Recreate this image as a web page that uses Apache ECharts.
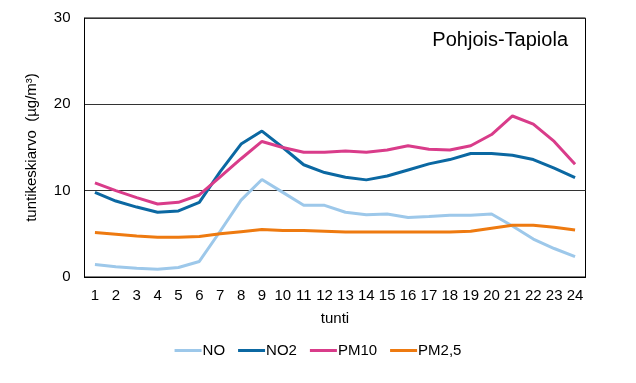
<!DOCTYPE html>
<html>
<head>
<meta charset="utf-8">
<script src="https://cdn.jsdelivr.net/npm/echarts@6/dist/echarts.min.js"></script>
<style>
html,body{margin:0;padding:0;background:#fff;}
#c{width:636px;height:383px;}
</style>
</head>
<body>
<div id="c"></div>
<script>
var hours = ['1','2','3','4','5','6','7','8','9','10','11','12','13','14','15','16','17','18','19','20','21','22','23','24'];
var NO   = [1.45,1.2,1.0,0.9,1.1,1.8,5.3,8.9,11.3,9.8,8.3,8.3,7.5,7.2,7.3,6.9,7.0,7.15,7.15,7.3,5.9,4.4,3.3,2.35];
var NO2  = [9.8,8.8,8.1,7.5,7.65,8.65,12.2,15.4,16.9,15.0,13.0,12.1,11.55,11.25,11.7,12.4,13.1,13.6,14.3,14.3,14.1,13.6,12.6,11.5];
var PM10 = [10.9,10.0,9.2,8.45,8.65,9.5,11.6,13.7,15.7,15.0,14.45,14.45,14.6,14.45,14.7,15.2,14.8,14.7,15.2,16.5,18.65,17.7,15.7,13.05];
var PM25 = [5.15,4.95,4.75,4.6,4.6,4.7,5.0,5.25,5.5,5.4,5.4,5.3,5.2,5.2,5.2,5.2,5.2,5.2,5.3,5.65,6.0,6.0,5.75,5.45];
var seriesNames = ['NO','NO2','PM10','PM2,5'];
var colors = ['#9DC8EA','#0B68A2','#D93C8A','#EE7A10'];
var stationName = 'Pohjois-Tapiola';

var font = 'Arial, "Liberation Sans", sans-serif';
var chart = echarts.init(document.getElementById('c'), null, {renderer:'canvas'});
var data = [NO, NO2, PM10, PM25];
chart.setOption({
  animation:false,
  color: colors,
  title:{
    text: stationName,
    right: 63, top: 25,
    textStyle:{fontFamily:font,fontSize:20,fontWeight:'normal',color:'#000'}
  },
  legend:{
    bottom: 20, left:'center',
    itemWidth: 27, itemHeight: 3, itemGap: 13,
    icon: 'rect',
    textStyle:{fontFamily:font,fontSize:15,color:'#000',padding:[0,0,0,-4]},
    data: seriesNames
  },
  grid:{left:84.5,right:50.5,top:18,bottom:106,show:true,borderColor:'#000',borderWidth:1},
  xAxis:{
    type:'category', data: hours, boundaryGap:true,
    name:'tunti', nameLocation:'middle', nameGap:34,
    nameTextStyle:{fontFamily:font,fontSize:15,color:'#000'},
    axisLine:{lineStyle:{color:'#000'}},
    axisTick:{show:false},
    axisLabel:{fontFamily:font,fontSize:15,color:'#000',margin:11,interval:0}
  },
  yAxis:{
    type:'value', min:0, max:30, interval:10,
    name:'tuntikeskiarvo  (µg/m³)', nameLocation:'middle', nameGap:45,
    nameTextStyle:{fontFamily:font,fontSize:15,color:'#000'},
    axisLine:{show:true,lineStyle:{color:'#000'}},
    axisTick:{show:false},
    axisLabel:{fontFamily:font,fontSize:15,color:'#000',margin:14},
    splitLine:{lineStyle:{color:'#333',width:1}}
  },
  series: seriesNames.map(function(n,i){
    return {name:n,type:'line',data:data[i],symbol:'none',lineStyle:{width:3,color:colors[i]},itemStyle:{color:colors[i]}};
  })
});
</script>
</body>
</html>
